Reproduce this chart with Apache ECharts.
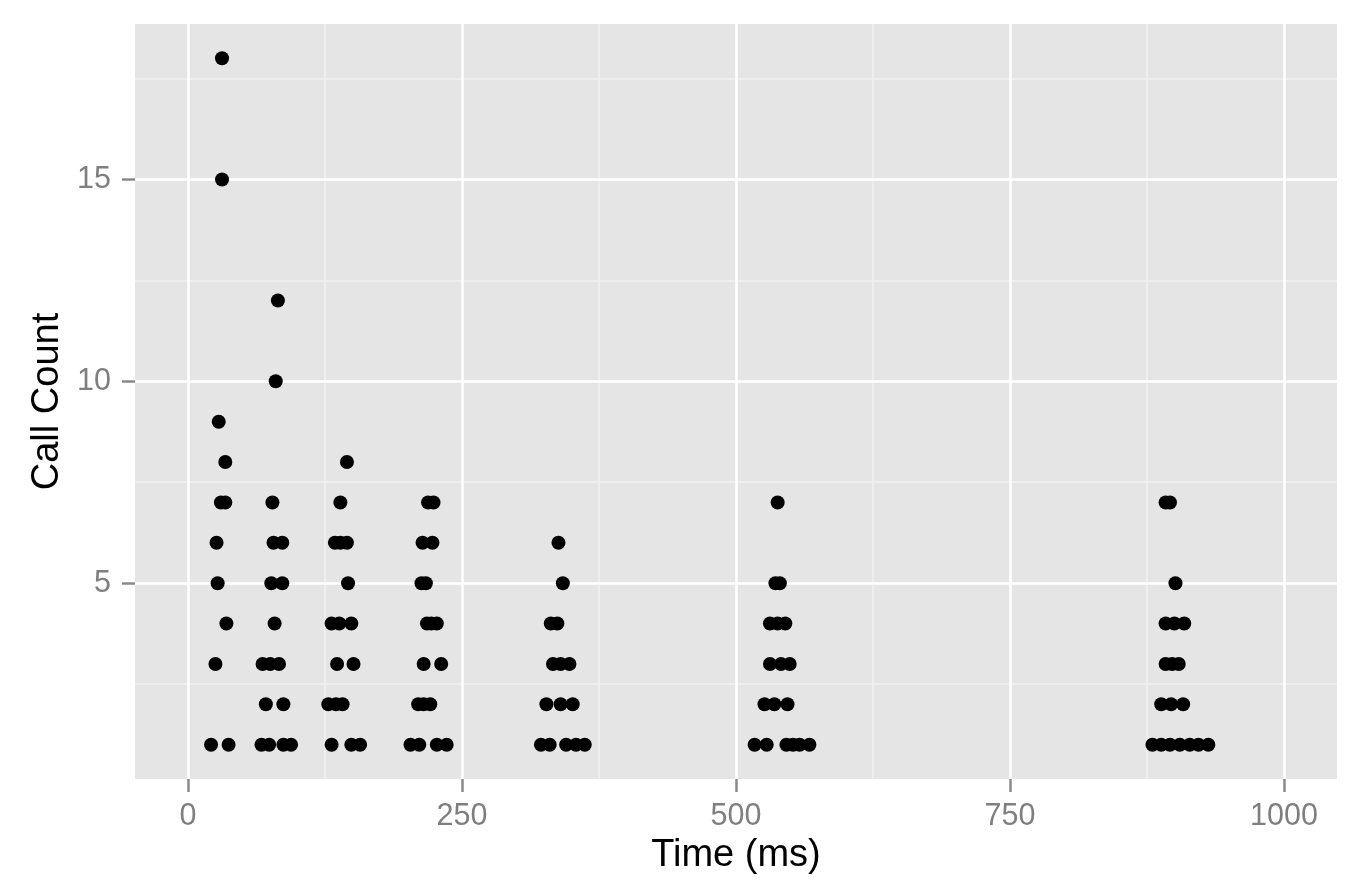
<!DOCTYPE html>
<html>
<head>
<meta charset="utf-8">
<script src="https://cdn.jsdelivr.net/npm/echarts@6/dist/echarts.min.js"></script>
<style>
html,body{margin:0;padding:0;background:#fff;}
#chart{width:1366px;height:892px;}
</style>
</head>
<body>
<div id="chart"></div>
<script>
// Data
var timeMs = [
  31,31,28,34,30,34,26,27,35,25,21,37,
  82,80,77,78,86,76,86,79,68,75,83,71,87,67,74,87,94,
  145,139,134,139,145,146,131,138,149,136,151,128,135,141,131,149,157,
  219,224,214,223,213,217,218,222,227,215,231,210,215,221,203,211,227,236,
  338,342,331,337,333,340,348,327,340,351,322,330,345,354,362,
  538,536,540,531,538,545,531,541,549,526,535,547,517,528,546,552,558,567,
  892,896,901,892,900,909,892,898,904,888,897,908,880,888,896,905,914,922,931
];
var callCount = [
  18,15,9,8,7,7,6,5,4,3,1,1,
  12,10,7,6,6,5,5,4,3,3,3,2,2,1,1,1,1,
  8,7,6,6,6,5,4,4,4,3,3,2,2,2,1,1,1,
  7,7,6,6,5,5,4,4,4,3,3,2,2,2,1,1,1,1,
  6,5,4,4,3,3,3,2,2,2,1,1,1,1,1,
  7,5,5,4,4,4,3,3,3,2,2,2,1,1,1,1,1,1,
  7,7,5,4,4,4,3,3,3,2,2,2,1,1,1,1,1,1,1
];
var xTicks = [0, 250, 500, 750, 1000];
var xMinor = [125, 375, 625, 875];
var yTicks = [5, 10, 15];
var yMinor = [2.5, 7.5, 12.5, 17.5];

var points = timeMs.map(function (t, i) { return [t, callCount[i]]; });

var minorLines = xMinor.map(function (v) { return {xAxis: v}; })
  .concat(yMinor.map(function (v) { return {yAxis: v}; }));
var majorLines = xTicks.map(function (v) { return {xAxis: v}; })
  .concat(yTicks.map(function (v) { return {yAxis: v}; }));

var tickColor = '#7F7F7F';
var font = 'Liberation Sans, Arial, Helvetica, sans-serif';
function plain(v) { return String(v); }

var chart = echarts.init(document.getElementById('chart'), null, {renderer: 'canvas'});
chart.setOption({
  animation: false,
  backgroundColor: '#ffffff',
  grid: {
    left: 135, top: 24, right: 29, bottom: 113,
    show: true, backgroundColor: '#E5E5E5', borderWidth: 0
  },
  xAxis: {
    type: 'value',
    position: 'bottom',
    min: -48.4, max: 1048.4,
    name: 'Time (ms)',
    nameLocation: 'middle',
    nameGap: 52,
    nameTextStyle: {color: '#000', fontSize: 38, fontFamily: font},
    axisLine: {show: false, onZero: false},
    axisTick: {show: true, inside: false, length: 13, lineStyle: {color: '#8A8A8A', width: 2.5}, customValues: xTicks},
    axisLabel: {color: tickColor, fontSize: 30.5, fontFamily: font, margin: 22, customValues: xTicks, formatter: plain},
    splitLine: {show: false}
  },
  yAxis: {
    type: 'value',
    position: 'left',
    min: 0.15, max: 18.85,
    name: 'Call Count',
    nameLocation: 'middle',
    nameGap: 58,
    nameTextStyle: {color: '#000', fontSize: 38, fontFamily: font},
    axisLine: {show: false, onZero: false},
    axisTick: {show: true, inside: false, length: 13, lineStyle: {color: '#8A8A8A', width: 2.5}, customValues: yTicks},
    axisLabel: {color: tickColor, fontSize: 30.5, fontFamily: font, margin: 24, customValues: yTicks, formatter: plain},
    splitLine: {show: false}
  },
  series: [
    {
      type: 'scatter', data: [], z: 1, silent: true,
      markLine: {
        z: 1, silent: true, symbol: 'none', animation: false,
        label: {show: false},
        lineStyle: {color: '#F0F0F0', width: 1.5, type: 'solid'},
        emphasis: {disabled: true},
        data: minorLines
      }
    },
    {
      type: 'scatter', data: [], z: 1, silent: true,
      markLine: {
        z: 1, silent: true, symbol: 'none', animation: false,
        label: {show: false},
        lineStyle: {color: '#FFFFFF', width: 2.5, type: 'solid'},
        emphasis: {disabled: true},
        data: majorLines
      }
    },
    {
      type: 'scatter',
      z: 3,
      data: points,
      symbol: 'circle',
      symbolSize: 14,
      itemStyle: {color: '#000000', opacity: 1}
    }
  ]
});
</script>
</body>
</html>
